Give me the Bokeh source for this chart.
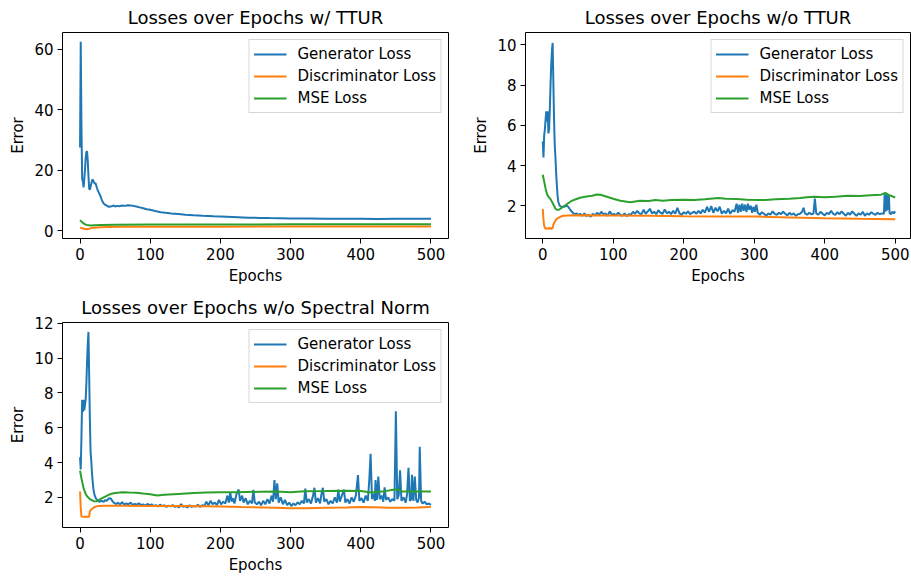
from bokeh.plotting import figure
from bokeh.layouts import column, row
from bokeh.models import Range1d, FixedTicker, Legend, LegendItem
from bokeh.embed import file_html
from bokeh.resources import INLINE

# ---------------- data ----------------
series_names = ["Generator Loss", "Discriminator Loss", "MSE Loss"]
colors = ["#1f77b4", "#ff7f0e", "#2ca02c"]
x_ticks = [0, 100, 200, 300, 400, 500]

# Panel 1: w/ TTUR
ttur_gen_x = [0, 1, 2, 3, 4, 5, 6, 7, 8, 9, 10, 11, 12, 13, 14, 15, 16, 17, 18, 19, 20, 21, 22, 23, 24, 25,
              27, 29, 31, 33, 35, 38, 41, 45, 48, 50, 53, 56, 60, 64, 68, 72, 76, 80, 85, 90, 95, 100, 107,
              115, 122, 130, 140, 150, 162, 175, 190, 209, 225, 240, 256, 270, 285, 300, 325, 350, 375,
              400, 425, 450, 475, 500]
ttur_gen_y = [27.5, 62.5, 35.0, 17.0, 16.5, 14.3, 17.0, 20.0, 24.0, 26.0, 26.3, 23.0, 18.0, 14.0, 13.5, 14.5,
              15.5, 16.5, 17.0, 16.5, 16.0, 15.5, 15.8, 15.0, 14.2, 13.5, 12.5, 11.5, 10.2, 9.2, 8.7, 8.3,
              7.9, 8.1, 8.3, 8.0, 8.2, 8.1, 8.3, 8.2, 8.4, 8.3, 8.2, 8.0, 7.7, 7.4, 7.1, 6.9, 6.5, 6.1, 5.9,
              5.7, 5.5, 5.3, 5.1, 4.9, 4.75, 4.6, 4.45, 4.3, 4.2, 4.15, 4.1, 4.05, 4.0, 3.95, 3.92, 3.9,
              3.88, 3.9, 3.9, 3.9]
ttur_dis_x = [0, 3, 6, 10, 13, 16, 20, 30, 40, 60, 100, 200, 300, 400, 500]
ttur_dis_y = [1.0, 0.8, 0.6, 0.45, 0.6, 0.85, 1.0, 1.1, 1.2, 1.25, 1.3, 1.33, 1.35, 1.35, 1.35]
ttur_mse_x = [0, 2, 5, 8, 12, 16, 20, 30, 50, 100, 200, 300, 400, 500]
ttur_mse_y = [3.5, 3.0, 2.4, 2.0, 1.75, 1.7, 1.75, 1.85, 1.95, 2.0, 2.05, 2.1, 2.1, 2.1]

# Panel 2: w/o TTUR
nottur_gen_x = [0, 1, 2, 3, 4, 5, 6, 7, 8, 9, 10, 11, 12, 13, 14, 15, 16, 17, 18, 19, 20, 21, 22, 24, 26,
                28, 30, 32, 34, 36, 38, 40, 42, 44, 46, 48, 50, 53, 56, 59, 62, 65, 68, 71, 74, 77, 80, 83,
                86, 89, 92, 95, 98, 101, 104, 107, 110, 113, 116, 119, 122, 125, 128, 131, 134, 137, 140,
                143, 146, 149, 152, 155, 158, 161, 164, 167, 170, 173, 176, 179, 182, 185, 188, 191, 194,
                197, 200, 203, 206, 209, 212, 215, 218, 221, 224, 227, 230, 233, 236, 239, 242, 245, 248,
                251, 254, 257, 260, 263, 266, 269, 272, 275, 277, 279, 281, 283, 285, 287, 289, 291, 293,
                295, 297, 299, 301, 303, 305, 308, 311, 314, 317, 320, 323, 326, 329, 332, 335, 338, 341,
                344, 347, 350, 353, 356, 359, 362, 365, 368, 370, 372, 375, 378, 381, 384, 386, 388, 391,
                394, 397, 400, 403, 406, 409, 412, 415, 418, 421, 424, 427, 430, 433, 436, 439, 442, 445,
                448, 451, 454, 457, 460, 463, 466, 469, 472, 475, 478, 481, 484, 485, 486, 487, 488, 489,
                490, 491, 492, 494, 496, 498, 500]
nottur_gen_y = [5.2, 4.4, 5.5, 5.8, 6.3, 6.7, 6.2, 6.7, 5.6, 5.8, 6.8, 8.0, 9.0, 9.7, 10.1, 8.2, 6.3, 5.0,
                4.4, 3.6, 3.0, 2.5, 2.2, 2.0, 1.95, 1.95, 1.95, 1.97, 2.0, 1.95, 1.85, 1.75, 1.68, 1.6,
                1.58, 1.62, 1.55, 1.6, 1.5, 1.62, 1.48, 1.55, 1.45, 1.6, 1.52, 1.65, 1.55, 1.7, 1.58, 1.62,
                1.5, 1.72, 1.55, 1.6, 1.52, 1.66, 1.55, 1.5, 1.62, 1.48, 1.58, 1.55, 1.7, 1.6, 1.75, 1.62,
                1.58, 1.8, 1.6, 1.72, 1.85, 1.62, 1.7, 1.58, 1.78, 1.65, 1.6, 1.82, 1.62, 1.7, 1.58, 1.75,
                1.6, 1.9, 1.62, 1.55, 1.68, 1.6, 1.72, 1.58, 1.65, 1.7, 1.6, 1.75, 1.62, 1.8, 1.65, 1.95,
                1.7, 1.98, 1.65, 1.9, 1.72, 1.95, 1.6, 1.75, 1.62, 1.85, 1.6, 1.78, 1.7, 2.1, 1.65, 2.05,
                1.7, 2.1, 1.75, 2.05, 1.68, 2.1, 1.8, 2.0, 1.65, 1.95, 1.7, 2.05, 1.65, 1.55, 1.68, 1.6,
                1.5, 1.62, 1.55, 1.72, 1.6, 1.55, 1.65, 1.58, 1.7, 1.6, 1.52, 1.65, 1.55, 1.62, 1.5, 1.58,
                1.6, 1.7, 1.9, 1.62, 1.55, 1.65, 1.58, 1.6, 2.35, 1.62, 1.55, 1.7, 1.6, 1.52, 1.65, 1.58,
                1.75, 1.6, 1.55, 1.68, 1.58, 1.72, 1.6, 1.5, 1.65, 1.55, 1.72, 1.6, 1.5, 1.62, 1.55, 1.7,
                1.5, 1.62, 1.55, 1.68, 1.6, 1.55, 1.65, 1.58, 1.62, 1.6, 2.6, 1.7, 2.55, 1.75, 2.6, 1.8,
                2.5, 1.65, 1.58, 1.7, 1.62, 1.72]
nottur_dis_x = [0, 1, 2, 3, 4, 6, 8, 10, 12, 14, 15, 17, 19, 22, 25, 29, 35, 50, 100, 150, 200, 250, 300,
                350, 400, 450, 500]
nottur_dis_y = [1.84, 1.3, 1.0, 0.92, 0.85, 0.88, 0.85, 0.9, 0.85, 0.9, 1.05, 1.2, 1.32, 1.4, 1.45, 1.5,
                1.52, 1.53, 1.52, 1.5, 1.48, 1.47, 1.46, 1.42, 1.38, 1.35, 1.33]
nottur_mse_x = [0, 2, 4, 6, 8, 11, 13, 16, 18, 20, 23, 27, 33, 39, 45, 53, 60, 70, 77, 82, 91, 100, 110,
                124, 138, 150, 160, 170, 183, 200, 215, 230, 249, 260, 275, 290, 307, 316, 330, 350, 365,
                375, 386, 400, 415, 433, 450, 465, 480, 486, 490, 500]
nottur_mse_y = [3.54, 3.2, 2.85, 2.58, 2.45, 2.33, 2.2, 2.0, 1.85, 1.8, 1.8, 1.9, 2.05, 2.2, 2.3, 2.4,
                2.45, 2.5, 2.56, 2.55, 2.45, 2.35, 2.25, 2.17, 2.25, 2.24, 2.28, 2.25, 2.28, 2.3, 2.28,
                2.32, 2.38, 2.35, 2.33, 2.3, 2.28, 2.28, 2.32, 2.35, 2.38, 2.42, 2.45, 2.42, 2.45, 2.5,
                2.48, 2.52, 2.55, 2.64, 2.55, 2.41]

# Panel 3: w/o Spectral Norm
nosn_gen_x = [0, 1, 2, 3, 4, 5, 6, 7, 8, 9, 10, 11, 12, 13, 14, 15, 16, 17, 18, 19, 20, 21, 22, 24, 26, 28,
              30, 32, 34, 36, 38, 40, 42, 44, 46, 48, 51, 54, 57, 60, 63, 66, 69, 72, 75, 78, 81, 84, 87,
              90, 93, 96, 99, 102, 105, 108, 111, 114, 117, 120, 123, 126, 129, 132, 135, 138, 141, 144,
              147, 150, 153, 156, 159, 162, 165, 168, 171, 174, 177, 180, 183, 186, 189, 192, 195, 198,
              201, 204, 207, 210, 212, 214, 216, 218, 220, 223, 226, 228, 231, 233, 236, 239, 242, 245,
              247, 249, 252, 255, 258, 261, 264, 267, 270, 273, 275, 277, 279, 281, 283, 286, 289, 292,
              295, 298, 301, 304, 307, 310, 313, 316, 319, 321, 323, 326, 329, 332, 334, 336, 339, 342,
              344, 346, 348, 351, 354, 357, 360, 363, 366, 368, 370, 373, 376, 378, 381, 384, 387, 390,
              393, 396, 398, 401, 404, 407, 410, 412, 414, 416, 418, 420, 421, 423, 425, 427, 430, 432,
              434, 436, 439, 442, 445, 448, 450, 452, 454, 456, 458, 461, 464, 466, 468, 470, 472, 473,
              475, 477, 479, 481, 483, 484, 486, 488, 491, 494, 497, 500]
nosn_gen_y = [4.3, 3.6, 5.5, 7.6, 6.9, 7.6, 7.0, 7.3, 7.6, 8.5, 9.8, 10.8, 11.5, 9.0, 6.5, 4.6, 4.1, 3.4,
              2.9, 2.5, 2.25, 2.1, 2.0, 1.85, 1.78, 1.75, 1.8, 1.78, 1.75, 1.85, 1.8, 1.9, 1.96, 1.92, 1.8,
              1.7, 1.62, 1.68, 1.6, 1.72, 1.58, 1.65, 1.6, 1.7, 1.55, 1.62, 1.58, 1.66, 1.55, 1.6, 1.52,
              1.62, 1.55, 1.6, 1.5, 1.55, 1.48, 1.58, 1.5, 1.55, 1.45, 1.52, 1.48, 1.56, 1.45, 1.5, 1.42,
              1.62, 1.45, 1.5, 1.42, 1.55, 1.45, 1.5, 1.48, 1.58, 1.45, 1.55, 1.5, 1.75, 1.55, 1.8, 1.6,
              1.7, 1.55, 1.85, 1.6, 1.75, 1.65, 2.1, 1.7, 2.3, 1.75, 1.95, 1.65, 2.2, 2.45, 1.8, 2.1, 1.7,
              1.95, 1.6, 1.8, 1.65, 2.43, 1.7, 1.6, 1.75, 1.55, 1.8, 1.6, 1.9, 1.65, 2.1, 1.75, 3.0, 1.9,
              2.8, 1.7, 2.0, 1.6, 1.85, 1.55, 1.7, 1.5, 1.65, 1.55, 1.72, 1.6, 1.8, 1.65, 2.5, 1.7, 1.9,
              1.65, 2.1, 2.55, 1.7, 1.95, 1.65, 2.2, 2.55, 1.75, 1.9, 1.6, 1.8, 1.65, 2.0, 1.7, 2.45, 1.75,
              2.1, 2.45, 1.7, 1.9, 1.65, 2.0, 1.75, 2.1, 3.28, 1.8, 1.95, 1.7, 2.1, 1.8, 2.9, 4.5, 1.9,
              2.2, 1.8, 3.0, 1.85, 3.2, 1.9, 2.1, 1.75, 2.57, 1.85, 2.0, 1.75, 1.9, 1.8, 6.95, 1.9, 2.1,
              3.55, 1.8, 2.0, 1.7, 2.2, 3.7, 1.8, 1.9, 3.3, 1.8, 3.2, 1.85, 1.7, 2.0, 4.9, 1.8, 1.65,
              1.75, 1.6, 1.65, 1.57]
nosn_dis_x = [0, 1, 2, 5, 8, 11, 13, 14, 16, 20, 25, 35, 60, 100, 150, 200, 230, 260, 280, 300, 320, 350,
              380, 400, 420, 440, 460, 480, 500]
nosn_dis_y = [2.34, 1.4, 0.9, 0.88, 0.9, 0.87, 0.9, 1.21, 1.3, 1.43, 1.5, 1.52, 1.52, 1.5, 1.5, 1.47, 1.44,
              1.42, 1.4, 1.37, 1.38, 1.4, 1.42, 1.44, 1.43, 1.4, 1.41, 1.42, 1.45]
nosn_mse_x = [0, 2, 5, 8, 10, 14, 20, 24, 27, 33, 43, 50, 60, 70, 80, 90, 100, 110, 120, 140, 162, 180,
              200, 220, 257, 280, 300, 320, 350, 380, 400, 415, 430, 451, 460, 480, 500]
nosn_mse_y = [3.53, 3.1, 2.53, 2.2, 2.06, 1.9, 1.77, 1.78, 1.85, 1.98, 2.19, 2.25, 2.3, 2.28, 2.27, 2.22,
              2.18, 2.11, 2.15, 2.2, 2.25, 2.28, 2.3, 2.3, 2.32, 2.33, 2.3, 2.35, 2.36, 2.38, 2.37, 2.28,
              2.33, 2.47, 2.33, 2.33, 2.34]

FONT = "DejaVu Sans"


def make_panel(title, series, x_range, y_range, y_ticks, width, height, left, right, top, bottom):
    p = figure(width=width, height=height, output_backend="svg", toolbar_location=None,
               x_range=Range1d(*x_range), y_range=Range1d(*y_range),
               min_border_left=left, min_border_right=right,
               min_border_top=top, min_border_bottom=bottom)
    p.title.text = title
    p.title.text_font = FONT
    p.title.text_font_size = "18px"
    p.title.text_font_style = "normal"
    p.title.align = "center"
    p.title.text_color = "black"
    p.title.standoff = 9
    p.xgrid.visible = False
    p.ygrid.visible = False
    p.outline_line_color = "black"
    p.outline_line_width = 1
    p.xaxis.ticker = FixedTicker(ticks=x_ticks)
    p.yaxis.ticker = FixedTicker(ticks=y_ticks)
    p.xaxis.axis_label = "Epochs"
    p.yaxis.axis_label = "Error"
    for ax in (p.xaxis[0], p.yaxis[0]):
        ax.axis_line_color = None
        ax.major_tick_in = 0
        ax.major_tick_out = 5
        ax.major_tick_line_color = "black"
        ax.minor_tick_line_color = None
        ax.major_label_text_font = FONT
        ax.major_label_text_font_size = "15px"
        ax.major_label_text_color = "black"
        ax.major_label_standoff = 4
        ax.axis_label_text_font = FONT
        ax.axis_label_text_font_size = "15px"
        ax.axis_label_text_font_style = "normal"
        ax.axis_label_text_color = "black"
        ax.axis_label_standoff = 4
    items = []
    for name, color, (xs, ys) in zip(series_names, colors, series):
        r = p.line(xs, ys, line_color=color, line_width=2)
        items.append(LegendItem(label=name, renderers=[r]))
    leg = Legend(items=items, location="top_right")
    leg.margin = 7
    leg.padding = 4
    leg.spacing = 2
    leg.label_height = 20
    leg.glyph_height = 20
    leg.glyph_width = 33
    leg.label_standoff = 11
    leg.label_text_font = FONT
    leg.label_text_font_size = "15px"
    leg.label_text_color = "black"
    leg.border_line_color = "#cccccc"
    leg.border_line_alpha = 0.8
    leg.background_fill_alpha = 0.8
    p.add_layout(leg, "center")
    return p


p1 = make_panel("Losses over Epochs w/ TTUR",
                [(ttur_gen_x, ttur_gen_y), (ttur_dis_x, ttur_dis_y), (ttur_mse_x, ttur_mse_y)],
                (-25, 525), (-2.6, 65.6), [0, 20, 40, 60],
                455, 290, 62, 7, 32, 52)
p2 = make_panel("Losses over Epochs w/o TTUR",
                [(nottur_gen_x, nottur_gen_y), (nottur_dis_x, nottur_dis_y), (nottur_mse_x, nottur_mse_y)],
                (-24.5, 521.7), (0.37, 10.62), [2, 4, 6, 8, 10],
                456, 290, 70, 1, 32, 52)
p3 = make_panel("Losses over Epochs w/o Spectral Norm",
                [(nosn_gen_x, nosn_gen_y), (nosn_dis_x, nosn_dis_y), (nosn_mse_x, nosn_mse_y)],
                (-25, 525), (0.27, 12.04), [2, 4, 6, 8, 10, 12],
                455, 286, 62, 7, 32, 48)

layout = column(row(p1, p2), p3)
open("out.html", "w").write(file_html(layout, INLINE))
